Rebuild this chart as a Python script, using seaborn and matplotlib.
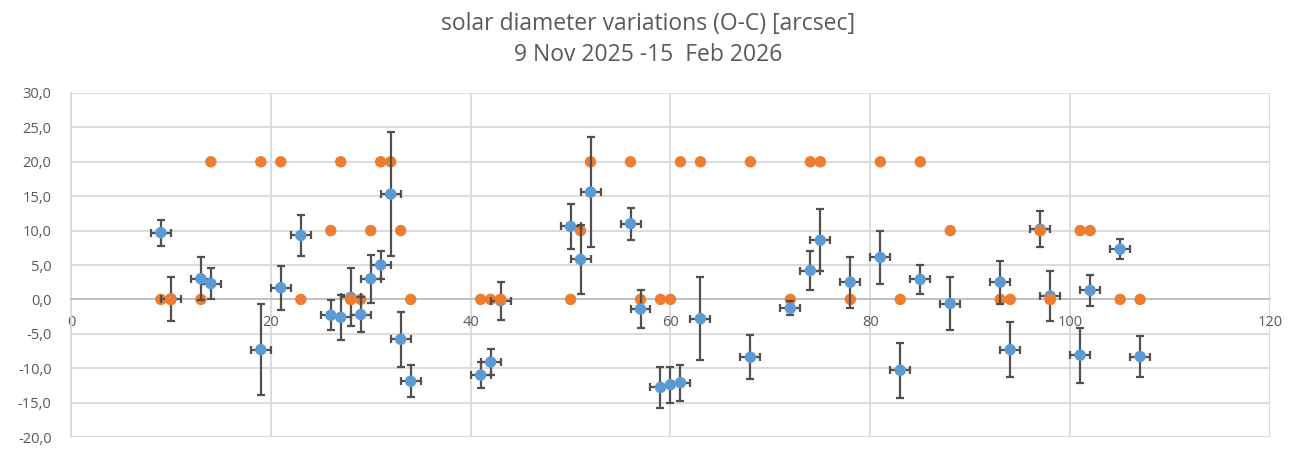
import seaborn as sns
import matplotlib.pyplot as plt
import matplotlib.ticker as mticker
import pandas as pd

sns.set_style("white")
plt.rcParams['font.family'] = ['Open Sans', 'DejaVu Sans']

# observation index (x) for every measurement
days = [9, 10, 13, 14, 19, 21, 23, 26, 27, 28, 29, 30, 31, 32, 33, 34,
        41, 42, 43, 50, 51, 52, 56, 57, 59, 60, 61, 63, 68, 72, 74, 75,
        78, 81, 83, 85, 88, 93, 94, 97, 98, 101, 102, 105, 107]

# O-C in arcsec (blue)
oc = [9.7, 0.1, 3.0, 2.3, -7.3, 1.7, 9.3, -2.3, -2.6, 0.3, -2.2, 3.0, 5.0, 15.3, -5.8, -11.9,
      -11.0, -9.1, -0.2, 10.6, 5.8, 15.6, 11.0, -1.4, -12.8, -12.4, -12.1, -2.8, -8.4, -1.3, 4.2, 8.6,
      2.5, 6.1, -10.3, 2.9, -0.6, 2.5, -7.3, 10.2, 0.5, -8.1, 1.3, 7.3, -8.3]
oc_err = [1.9, 3.2, 3.1, 2.3, 6.6, 3.2, 3.0, 2.2, 3.3, 4.2, 2.6, 3.5, 2.0, 9.0, 4.0, 2.3,
          1.9, 1.9, 2.8, 3.3, 5.0, 8.0, 2.3, 2.7, 3.0, 2.6, 2.6, 6.0, 3.2, 1.0, 2.9, 4.5,
          3.7, 3.9, 4.0, 2.1, 3.9, 3.1, 4.0, 2.6, 3.6, 4.0, 2.3, 1.5, 3.0]
day_err = [1] * len(days)

# second series (orange)
flag = [0, 0, 0, 20, 20, 20, 0, 10, 20, 0, 0, 10, 20, 20, 10, 0,
        0, 0, 0, 0, 10, 20, 20, 0, 0, 0, 20, 20, 20, 0, 20, 20,
        0, 20, 0, 20, 10, 0, 0, 10, 0, 10, 10, 0, 0]

df = pd.DataFrame({'day': days, 'oc': oc, 'oc_err': oc_err, 'day_err': day_err, 'flag': flag})
# where orange sits right on a blue point it is drawn on top of it
overlap = df[(df['oc'] - df['flag']).abs() < 0.8]

fig = plt.figure(figsize=(12.97, 4.65), dpi=100)
ax = fig.add_axes([0.0547, 0.0602, 0.9245, 0.7398])

sns.scatterplot(data=df, x='day', y='flag', ax=ax, color='#ED7D31', s=68, edgecolor='none', zorder=3)
ax.errorbar(df['day'], df['oc'], yerr=df['oc_err'], xerr=df['day_err'], fmt='none',
            ecolor='#505050', elinewidth=1.6, capsize=2.8, capthick=1.6, zorder=4)
sns.scatterplot(data=df, x='day', y='oc', ax=ax, color='#5B9BD5', s=68, edgecolor='none', zorder=5)
sns.scatterplot(data=overlap, x='day', y='flag', ax=ax, color='#ED7D31', s=68, edgecolor='none', zorder=6)

ax.set_xlim(0, 120)
ax.set_ylim(-20, 30)
ax.xaxis.set_major_locator(mticker.MultipleLocator(20))
ax.yaxis.set_major_locator(mticker.MultipleLocator(5))
ax.yaxis.set_major_formatter(mticker.FuncFormatter(lambda v, p: f"{v:.1f}".replace('.', ',')))
ax.grid(True, color='#D9D9D9', linewidth=1.3)
ax.set_axisbelow(True)
ax.set_xlabel('')
ax.set_ylabel('')

for s in ['top', 'right']:
    ax.spines[s].set_visible(False)
ax.spines['bottom'].set_position(('data', 0))
ax.spines['bottom'].set_color('#BFBFBF')
ax.spines['bottom'].set_linewidth(1.3)
ax.spines['left'].set_color('#D9D9D9')
ax.spines['left'].set_linewidth(1.3)
ax.tick_params(axis='both', length=0, labelsize=10.5, labelcolor='#595959')
ax.tick_params(axis='x', pad=11)
ax.tick_params(axis='y', pad=14)

fig.text(0.5, 0.949, 'solar diameter variations (O-C) [arcsec]', ha='center', va='center',
         fontsize=16.5, color='#595959')
fig.text(0.5, 0.882, '9 Nov 2025 -15  Feb 2026', ha='center', va='center',
         fontsize=16.5, color='#595959')

plt.savefig('out.png', dpi=100)
